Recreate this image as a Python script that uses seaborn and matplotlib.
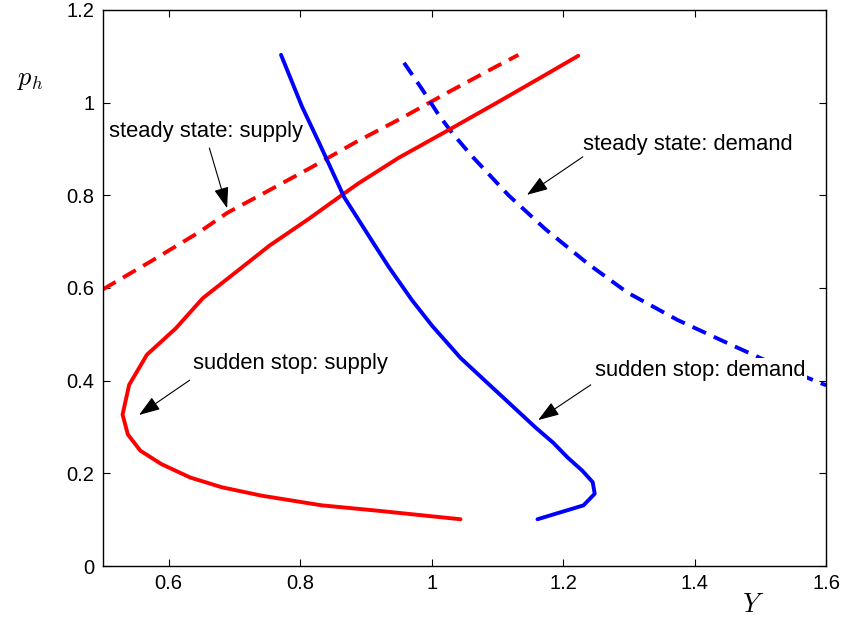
import matplotlib
matplotlib.use("Agg")
import matplotlib.pyplot as plt
import seaborn as sns
import pandas as pd

# steady state: supply (red dashed)
ss_supply_y = [0.5, 0.576, 0.647, 0.689, 0.748, 0.818, 0.885, 0.955, 1.026, 1.097, 1.132]
ss_supply_p = [0.597, 0.660, 0.721, 0.762, 0.807, 0.861, 0.915, 0.967, 1.023, 1.077, 1.103]

# steady state: demand (blue dashed)
ss_demand_y = [0.958, 0.985, 1.011, 1.031, 1.061, 1.117, 1.173, 1.238, 1.298, 1.374,
               1.450, 1.520, 1.600]
ss_demand_p = [1.086, 1.030, 0.973, 0.935, 0.885, 0.800, 0.727, 0.652, 0.590, 0.531,
               0.481, 0.436, 0.390]

# sudden stop: supply (red solid), from top end down to bottom end
st_supply_y = [1.223, 1.167, 1.102, 1.026, 0.950, 0.889, 0.864, 0.814, 0.753, 0.712, 0.652,
               0.611, 0.567, 0.540, 0.530, 0.538, 0.557, 0.589, 0.633, 0.681, 0.741,
               0.833, 0.914, 1.044]
st_supply_p = [1.101, 1.055, 1.002, 0.941, 0.881, 0.826, 0.801, 0.750, 0.691, 0.645, 0.578,
               0.513, 0.456, 0.391, 0.327, 0.284, 0.249, 0.220, 0.191, 0.170, 0.152,
               0.131, 0.120, 0.101]

# sudden stop: demand (blue solid), from top end down to bottom end
st_demand_y = [0.771, 0.803, 0.829, 0.867, 0.915, 0.935, 0.970, 1.001, 1.021, 1.044, 1.088,
               1.120, 1.158, 1.185, 1.207, 1.229, 1.245, 1.248, 1.231, 1.161]
st_demand_p = [1.103, 0.991, 0.913, 0.796, 0.689, 0.645, 0.574, 0.518, 0.486, 0.449, 0.391,
               0.349, 0.299, 0.266, 0.234, 0.206, 0.181, 0.156, 0.131, 0.101]

curves = [
    ("ss_supply", ss_supply_y, ss_supply_p),
    ("ss_demand", ss_demand_y, ss_demand_p),
    ("st_supply", st_supply_y, st_supply_p),
    ("st_demand", st_demand_y, st_demand_p),
]
rows = []
for name, xs, ys in curves:
    for i, (x, y) in enumerate(zip(xs, ys)):
        rows.append({"curve": name, "order": i, "Y": x, "ph": y})
df = pd.DataFrame(rows)

styles = {
    "ss_supply": ("#ff0000", (0, (3.8, 2.2))),
    "ss_demand": ("#0000ff", (0, (3.8, 2.2))),
    "st_supply": ("#ff0000", "-"),
    "st_demand": ("#0000ff", "-"),
}

# annotation text, text position, arrow tip, arrow start
notes = [
    ("steady state: supply", (0.509, 0.937), (0.689, 0.772), (0.662, 0.902)),
    ("steady state: demand", (1.230, 0.909), (1.145, 0.801), (1.230, 0.883)),
    ("sudden stop: supply", (0.637, 0.438), (0.555, 0.326), (0.632, 0.401)),
    ("sudden stop: demand", (1.248, 0.423), (1.162, 0.315), (1.242, 0.391)),
]

sns.set_style("ticks")
plt.rcParams["font.family"] = ["Liberation Sans", "DejaVu Sans"]
plt.rcParams["mathtext.fontset"] = "cm"
plt.rcParams["text.color"] = "black"
plt.rcParams["xtick.color"] = "black"
plt.rcParams["ytick.color"] = "black"
plt.rcParams["axes.edgecolor"] = "black"

fig = plt.figure(figsize=(8.43, 6.2), dpi=100)
ax = fig.add_axes([0.122, 0.087, 0.858, 0.897])

for name, _, _ in curves:
    color, ls = styles[name]
    sub = df[df["curve"] == name]
    sns.lineplot(data=sub, x="Y", y="ph", sort=False, estimator=None,
                 color=color, linewidth=2.8, ax=ax, zorder=2)
    ax.lines[-1].set_linestyle(ls)

for text, pos, tip, start in notes:
    ax.annotate("", xy=tip, xytext=start,
                arrowprops=dict(arrowstyle="-|>,head_length=1.3,head_width=0.45",
                                color="black", lw=0.8, shrinkA=0, shrinkB=0),
                zorder=4)
    ax.text(pos[0], pos[1], text, fontsize=15.8, ha="left", va="center", color="black",
            bbox=dict(facecolor="white", edgecolor="none", pad=1), zorder=3)

ax.set_xlim(0.5, 1.6)
ax.set_ylim(0, 1.2)
ax.set_xticks([0.6, 0.8, 1.0, 1.2, 1.4, 1.6])
ax.set_xticklabels(["0.6", "0.8", "1", "1.2", "1.4", "1.6"])
ax.set_yticks([0, 0.2, 0.4, 0.6, 0.8, 1.0, 1.2])
ax.set_yticklabels(["0", "0.2", "0.4", "0.6", "0.8", "1", "1.2"])
ax.tick_params(direction="in", top=True, right=True, labelsize=14.5, length=5,
               width=0.8, pad=6, colors="black")
for s in ax.spines.values():
    s.set_visible(True)
    s.set_linewidth(1.0)
    s.set_color("black")

ax.set_xlabel("")
ax.set_ylabel("")
fig.text(753 / 843, 1 - 605 / 620, r"$Y$", fontsize=19, ha="center", va="center")
fig.text(30 / 843, 1 - 80 / 620, r"$p_h$", fontsize=19, ha="center", va="center")

fig.savefig("out.png", dpi=100)
plt.close(fig)
